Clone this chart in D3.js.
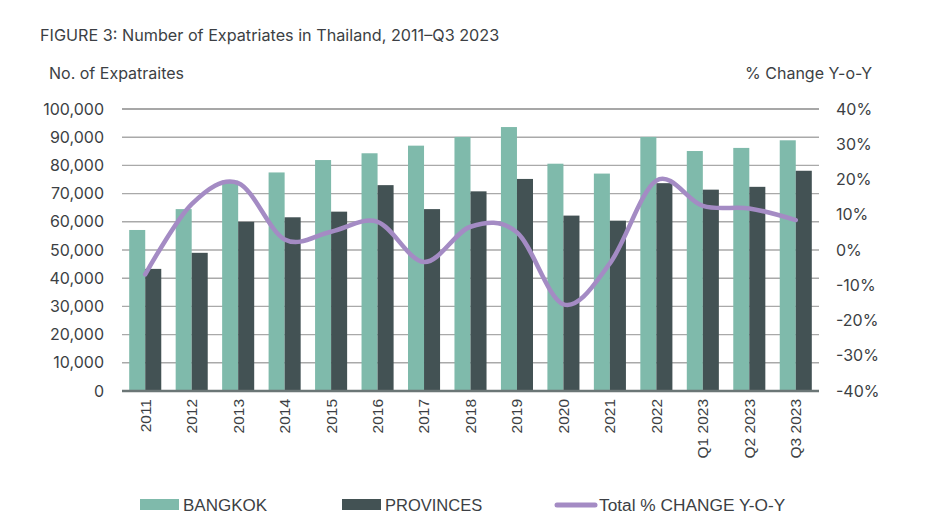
<!DOCTYPE html>
<html>
<head>
<meta charset="utf-8">
<script src="https://cdn.jsdelivr.net/npm/d3@7"></script>
<style>
  html, body { margin: 0; padding: 0; background: #fff; }
  svg { display: block; }
</style>
</head>
<body>
<svg id="chart" width="928" height="531"></svg>
<script>
const categories = ["2011","2012","2013","2014","2015","2016","2017","2018","2019","2020","2021","2022","Q1 2023","Q2 2023","Q3 2023"];
const bangkok   = [57100, 64500, 74600, 77500, 81900, 84300, 87000, 90100, 93600, 80600, 77100, 90100, 85100, 86200, 88900];
const provinces = [43300, 49000, 60000, 61600, 63600, 73000, 64500, 70800, 75200, 62200, 60400, 73700, 71400, 72400, 78100];
const pctChange = [-6.9, 13.0, 19.0, 3.0, 5.2, 8.0, -3.4, 6.6, 5.0, -15.4, -3.8, 19.7, 12.5, 11.8, 8.5];
const leftTicks  = [0,10000,20000,30000,40000,50000,60000,70000,80000,90000,100000];
const rightTicks = [-40,-30,-20,-10,0,10,20,30,40];
const seriesNames = ["BANGKOK","PROVINCES"];
const legendLineLabel = "Total % CHANGE Y-O-Y";
const titleText = "FIGURE 3: Number of Expatriates in Thailand, 2011\u2013Q3 2023";
const leftAxisTitle = "No. of Expatraites";
const rightAxisTitle = "% Change Y-o-Y";

(function () {
const colors = { bangkok: "#7fbaab", provinces: "#435254", line: "#a48bc4", text: "#3c3f44", grid: "#a9a9a9", axis: "#6b7676" };

const svg = d3.select("#chart");
const pLeft = 122, pRight = 819, pTop = 109, pBottom = 391;

const x0 = d3.scaleBand().domain(categories).range([pLeft, pRight]).paddingInner(0.31).paddingOuter(0.155);
const x1 = d3.scaleBand().domain(seriesNames).range([0, x0.bandwidth()]).padding(0);
const y = d3.scaleLinear().domain([0, 100000]).range([pBottom, pTop]);
const y2 = d3.scaleLinear().domain([-40, 40]).range([pBottom, pTop]);

const mainFont = "Inter, 'Noto Sans', sans-serif";
const axisFont = "'Liberation Sans', Arial, sans-serif";

svg.append("text").attr("x", 40).attr("y", 41).attr("font-family", mainFont).attr("font-size", 16.2)
  .attr("fill", colors.text).text(titleText);
svg.append("text").attr("x", 49).attr("y", 79).attr("font-family", mainFont).attr("font-size", 16)
  .attr("fill", colors.text).text(leftAxisTitle);
svg.append("text").attr("x", 872).attr("y", 79).attr("text-anchor", "end").attr("font-family", mainFont).attr("font-size", 16)
  .attr("fill", colors.text).text(rightAxisTitle);

const grid = svg.append("g");
grid.selectAll("line").data(leftTicks.filter(d => d > 0)).join("line")
  .attr("x1", pLeft).attr("x2", pRight)
  .attr("y1", d => y(d)).attr("y2", d => y(d))
  .attr("stroke", d => d === 100000 ? "#8a8a8a" : colors.grid).attr("stroke-width", 1.4);

const leftAxis = d3.axisLeft(y).tickValues(leftTicks).tickSize(0).tickPadding(0)
  .tickFormat(d3.format(","));
const gL = svg.append("g").attr("transform", `translate(104,0)`).call(leftAxis);
gL.select(".domain").remove();
gL.selectAll("text").attr("font-family", mainFont).attr("font-size", 16).attr("fill", colors.text);

const rightAxis = d3.axisRight(y2).tickValues(rightTicks).tickSize(0).tickPadding(0)
  .tickFormat(d => d + "%");
const gR = svg.append("g").attr("transform", `translate(836,0)`).call(rightAxis);
gR.select(".domain").remove();
gR.selectAll("text").attr("font-family", mainFont).attr("font-size", 16).attr("fill", colors.text);

const data = categories.map((c, i) => ({ cat: c, values: [
  { key: "BANGKOK", v: bangkok[i], color: colors.bangkok },
  { key: "PROVINCES", v: provinces[i], color: colors.provinces }
]}));
const groups = svg.append("g").selectAll("g").data(data).join("g")
  .attr("transform", d => `translate(${x0(d.cat)},0)`);
groups.selectAll("rect").data(d => d.values).join("rect")
  .attr("x", d => x1(d.key)).attr("width", x1.bandwidth())
  .attr("y", d => y(d.v)).attr("height", d => y(0) - y(d.v))
  .attr("fill", d => d.color);

svg.append("line").attr("x1", pLeft).attr("x2", pRight).attr("y1", pBottom).attr("y2", pBottom)
  .attr("stroke", colors.axis).attr("stroke-width", 2.5);

const xAxis = d3.axisBottom(x0).tickSize(0).tickPadding(0);
const gX = svg.append("g").attr("transform", `translate(0,${pBottom})`).call(xAxis);
gX.select(".domain").remove();
gX.selectAll("text")
  .attr("font-family", axisFont).attr("font-size", 15.5).attr("fill", colors.text)
  .attr("text-anchor", "end").attr("transform", "rotate(-90)")
  .attr("x", -8).attr("y", 0).attr("dy", "0.35em");

const line = d3.line()
  .x((d, i) => x0(categories[i]) + x0.bandwidth() / 2)
  .y(d => y2(d))
  .curve(d3.curveCardinal.tension(0));
svg.append("path").datum(pctChange).attr("d", line)
  .attr("fill", "none").attr("stroke", colors.line).attr("stroke-width", 4.5)
  .attr("stroke-linecap", "round");

const lg = svg.append("g");
const legendY = 505;
lg.append("rect").attr("x", 140).attr("y", legendY - 6).attr("width", 39).attr("height", 11).attr("fill", colors.bangkok);
lg.append("text").attr("x", 183).attr("y", legendY).attr("dy", "0.35em").attr("font-family", axisFont).attr("font-size", 17)
  .attr("fill", colors.text).text(seriesNames[0]);
lg.append("rect").attr("x", 342).attr("y", legendY - 6).attr("width", 39).attr("height", 11).attr("fill", colors.provinces);
lg.append("text").attr("x", 385).attr("y", legendY).attr("dy", "0.35em").attr("font-family", axisFont).attr("font-size", 16.5)
  .attr("fill", colors.text).text(seriesNames[1]);
lg.append("line").attr("x1", 557).attr("x2", 595).attr("y1", legendY).attr("y2", legendY)
  .attr("stroke", colors.line).attr("stroke-width", 5).attr("stroke-linecap", "round");
lg.append("text").attr("x", 599).attr("y", legendY).attr("dy", "0.35em").attr("font-family", axisFont).attr("font-size", 17.3)
  .attr("fill", colors.text).text(legendLineLabel);
})();
</script>
</body>
</html>
